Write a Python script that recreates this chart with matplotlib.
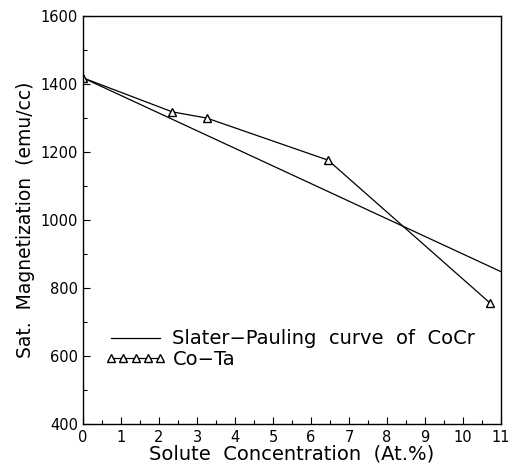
import numpy as np
import matplotlib.pyplot as plt
from matplotlib.ticker import MultipleLocator

# Co-Ta measured points
cota_x = [0.0, 2.35, 3.25, 6.45, 10.7]
cota_y = [1418, 1318, 1300, 1176, 757]

# Slater-Pauling curve of CoCr (straight line)
sp_x = [0.0, 11.0]
sp_y = [1418, 848]

plt.rcParams['font.family'] = 'DejaVu Sans'

fig = plt.figure(figsize=(5.15, 4.66), dpi=100)
ax = fig.add_axes([83/515, 1 - 424/466, (501 - 83)/515, (424 - 16)/466])

ax.plot(sp_x, sp_y, color='black', linewidth=0.9,
        label='Slater\u2212Pauling  curve  of  CoCr')
ax.plot(cota_x, cota_y, color='black', linewidth=0.9, marker='^',
        markersize=6, markerfacecolor='white', markeredgecolor='black',
        markeredgewidth=1.0, label='Co\u2212Ta')

ax.set_xlim(0, 11)
ax.set_ylim(400, 1600)
ax.set_xticks(range(0, 12))
ax.set_yticks(range(400, 1601, 200))
ax.xaxis.set_minor_locator(MultipleLocator(0.5))
ax.yaxis.set_minor_locator(MultipleLocator(100))
ax.tick_params(which='both', direction='in', labelsize=10.5)
ax.tick_params(which='major', length=5, width=0.8)
ax.tick_params(which='minor', length=3, width=0.8)
ax.tick_params(axis='x', pad=4)

for s in ax.spines.values():
    s.set_linewidth(1.0)

ax.set_xlabel('Solute  Concentration  (At.%)', fontsize=14, labelpad=0)
ax.set_ylabel('Sat.  Magnetization  (emu/cc)', fontsize=13.5, labelpad=4)

leg = ax.legend(loc='lower left', bbox_to_anchor=(0.035, 0.115), frameon=False,
                numpoints=5, handlelength=3.1, fontsize=14, handletextpad=0.35,
                labelspacing=0.1, borderaxespad=0)

plt.savefig('out.png', dpi=100)
